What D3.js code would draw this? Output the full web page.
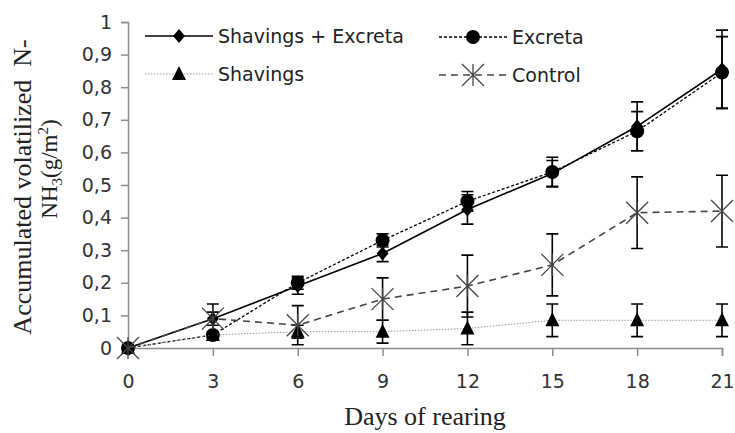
<!DOCTYPE html>
<html>
<head>
<meta charset="utf-8">
<script src="https://cdn.jsdelivr.net/npm/d3@7"></script>
<style>
  body { margin: 0; background: #fff; }
  svg { display: block; }
</style>
</head>
<body>
<svg id="chart" width="735" height="433"></svg>
<script>
// dias de criação
const days = [0, 3, 6, 9, 12, 15, 18, 21];
const yTicks = [0, 0.1, 0.2, 0.3, 0.4, 0.5, 0.6, 0.7, 0.8, 0.9, 1];

// valores (g/m2) e desvios
const shavExcreta    = [0, 0.09, 0.19, 0.29, 0.425, 0.535, 0.68, 0.855];
const shavExcretaErr = [0, 0.02, 0.025, 0.025, 0.045, 0.04, 0.075, 0.12];
const excreta        = [0, 0.04, 0.20, 0.33, 0.45, 0.54, 0.665, 0.845];
const excretaErr     = [0, 0.01, 0.02, 0.02, 0.03, 0.045, 0.06, 0.11];
const shavings       = [0, 0.04, 0.05, 0.05, 0.06, 0.085, 0.085, 0.085];
const shavingsErr    = [0, 0.01, 0.02, 0.035, 0.05, 0.05, 0.05, 0.05];
const control        = [0, 0.09, 0.07, 0.15, 0.19, 0.255, 0.415, 0.42];
const controlErr     = [0, 0.045, 0.06, 0.065, 0.095, 0.095, 0.11, 0.11];

const seriesNames = ['Shavings + Excreta', 'Excreta', 'Shavings', 'Control'];

const svg = d3.select('#chart');
const x = d3.scaleLinear().domain([0, 21]).range([128, 722]);
const y = d3.scaleLinear().domain([0, 1]).range([348, 22]);
const axisColor = '#8c8c8c';
const sans = 'DejaVu Sans, Verdana, sans-serif';
const serif = 'Liberation Serif, Times New Roman, serif';

// estilos de cada série
const series = [
  { name: seriesNames[0], vals: shavExcreta, err: shavExcretaErr, stroke: '#000', width: 1.6, dash: null, marker: 'diamond' },
  { name: seriesNames[1], vals: excreta, err: excretaErr, stroke: '#000', width: 1.3, dash: '3,2', marker: 'circle' },
  { name: seriesNames[2], vals: shavings, err: shavingsErr, stroke: '#999', width: 1, dash: '1.5,1.5', marker: 'triangle' },
  { name: seriesNames[3], vals: control, err: controlErr, stroke: '#444', width: 1.6, dash: '7,5', marker: 'star' }
];

// eixo Y
const yAxis = svg.append('g').attr('transform', `translate(${x(0)},0)`)
  .call(d3.axisLeft(y).tickValues(yTicks).tickSize(7).tickPadding(9)
    .tickFormat(d => d3.format('.1f')(d).replace('.', ',').replace(/^0,0$/, '0').replace(/^1,0$/, '1')));
// eixo X
const xAxis = svg.append('g').attr('transform', `translate(0,${y(0)})`)
  .call(d3.axisBottom(x).tickValues(days).tickSize(8).tickPadding(19));

[yAxis, xAxis].forEach(g => {
  g.select('.domain').attr('stroke', axisColor).attr('stroke-width', 1.5);
  g.selectAll('.tick line').attr('stroke', axisColor).attr('stroke-width', 1.5);
  g.selectAll('.tick text').attr('fill', '#333').style('font-family', sans).style('font-size', '19px');
});

// títulos dos eixos
svg.append('text').attr('x', 425).attr('y', 425).attr('text-anchor', 'middle')
  .style('font-family', serif).style('font-size', '26px').attr('fill', '#222')
  .text('Days of rearing');

svg.append('text').attr('transform', 'translate(31,187) rotate(-90)')
  .attr('text-anchor', 'middle').style('font-family', serif).style('font-size', '26px').attr('fill', '#222')
  .attr('xml:space', 'preserve').text('Accumulated volatilized  N-');
const yt2 = svg.append('text').attr('transform', 'translate(57,169) rotate(-90)')
  .attr('text-anchor', 'middle').style('font-family', serif).style('font-size', '23px').attr('fill', '#222');
yt2.append('tspan').text('NH');
yt2.append('tspan').attr('dy', 5).style('font-size', '15px').text('3');
yt2.append('tspan').attr('dy', -5).text('(g/m');
yt2.append('tspan').attr('dy', -9).style('font-size', '15px').text('2');
yt2.append('tspan').attr('dy', 9).text(')');

function drawMarker(g, type, cx, cy) {
  if (type === 'diamond') {
    g.append('path').attr('d', `M${cx},${cy - 7}L${cx + 6},${cy}L${cx},${cy + 7}L${cx - 6},${cy}Z`).attr('fill', '#000');
  } else if (type === 'circle') {
    g.append('circle').attr('cx', cx).attr('cy', cy).attr('r', 7).attr('fill', '#000');
  } else if (type === 'triangle') {
    g.append('path').attr('d', `M${cx},${cy - 8}L${cx + 7},${cy + 6}L${cx - 7},${cy + 6}Z`).attr('fill', '#000');
  } else if (type === 'star') {
    const s = 11;
    g.append('path')
      .attr('d', `M${cx - s},${cy - s}L${cx + s},${cy + s}M${cx - s},${cy + s}L${cx + s},${cy - s}M${cx},${cy - s}L${cx},${cy + s}`)
      .attr('stroke', '#444').attr('stroke-width', 1.3).attr('fill', 'none');
  }
}

const line = d3.line().x((d, i) => x(days[i])).y(d => y(d));

// linhas, barras de erro e marcadores
series.forEach(s => {
  const g = svg.append('g');
  g.append('path').datum(s.vals).attr('d', line)
    .attr('fill', 'none').attr('stroke', s.stroke).attr('stroke-width', s.width)
    .attr('stroke-dasharray', s.dash);
  s.vals.forEach((v, i) => {
    const e = s.err[i];
    if (e > 0) {
      const cx = x(days[i]);
      g.append('path')
        .attr('d', `M${cx},${y(v + e)}V${y(v - e)}M${cx - 6},${y(v + e)}H${cx + 6}M${cx - 6},${y(v - e)}H${cx + 6}`)
        .attr('stroke', '#000').attr('stroke-width', 1.6).attr('fill', 'none');
    }
  });
  s.vals.forEach((v, i) => drawMarker(g, s.marker, x(days[i]), y(v)));
});

// legenda
const legendPos = [[145, 36], [439, 37], [145, 74], [439, 75]];
series.forEach((s, i) => {
  const [lx, ly] = legendPos[i];
  const g = svg.append('g');
  g.append('line').attr('x1', lx).attr('x2', lx + 68).attr('y1', ly).attr('y2', ly)
    .attr('stroke', s.stroke).attr('stroke-width', s.width).attr('stroke-dasharray', s.dash);
  drawMarker(g, s.marker, lx + 34, ly);
  g.append('text').attr('x', lx + 73).attr('y', ly + 7)
    .style('font-family', sans).style('font-size', '19px').attr('fill', '#222').text(s.name);
});
</script>
</body>
</html>
